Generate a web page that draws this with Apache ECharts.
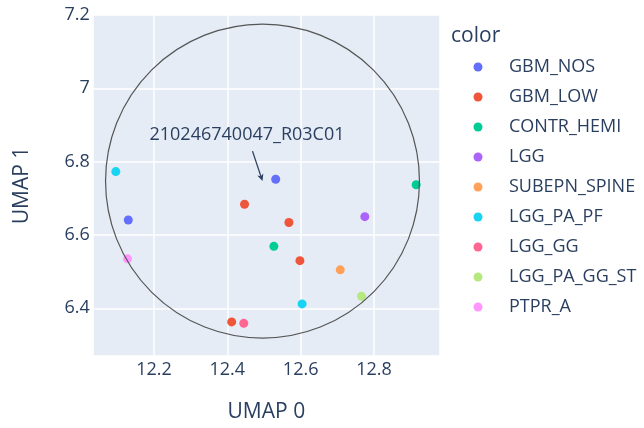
<!DOCTYPE html>
<html>
<head>
<meta charset="utf-8">
<script src="https://cdn.jsdelivr.net/npm/echarts@6/dist/echarts.min.js"></script>
<style>
html,body{margin:0;padding:0;background:#fff;}
#chart{width:644px;height:428px;}
</style>
</head>
<body>
<div id="chart"></div>
<script>
const categories = ['GBM_NOS','GBM_LOW','CONTR_HEMI','LGG','SUBEPN_SPINE','LGG_PA_PF','LGG_GG','LGG_PA_GG_ST','PTPR_A'];
const colors = ['#636efa','#EF553B','#00cc96','#ab63fa','#FFA15A','#19d3f3','#FF6692','#B6E880','#FF97FF'];
const gbmNos = [[12.130, 6.641], [12.532, 6.752]];
const gbmLow = [[12.447, 6.684], [12.568, 6.634], [12.598, 6.530], [12.412, 6.363]];
const contrHemi = [[12.527, 6.569], [12.915, 6.737]];
const lgg = [[12.775, 6.650]];
const subepnSpine = [[12.708, 6.505]];
const lggPaPf = [[12.096, 6.773], [12.604, 6.412]];
const lggGg = [[12.445, 6.359]];
const lggPaGgSt = [[12.766, 6.433]];
const ptprA = [[12.128, 6.535]];
const seriesValues = [gbmNos, gbmLow, contrHemi, lgg, subepnSpine, lggPaPf, lggGg, lggPaGgSt, ptprA];
// circle: center x, center y, radius (data units)
const circleShape = [[12.496, 6.747, 0.428]];
const annotationPoint = [[12.496, 6.747]];
const annotationText = '210246740047_R03C01';
const xRange = [12.033, 12.98];
const yRange = [6.27, 7.2];
const axisTitles = ['UMAP 0', 'UMAP 1'];
const legendTitle = 'color';

const textColor = '#2a3f5f';
const font = '"Open Sans", "Noto Sans", sans-serif';

const chart = echarts.init(document.getElementById('chart'), null, {renderer: 'canvas'});

const scatterSeries = categories.map((name, i) => ({
  name: name,
  type: 'scatter',
  data: seriesValues[i],
  symbol: 'circle',
  symbolSize: 9,
  itemStyle: {color: colors[i], opacity: 1},
  emphasis: {disabled: true},
  z: 3
}));

const circleSeries = {
  type: 'custom',
  name: '_circle',
  data: circleShape,
  z: 5,
  silent: true,
  renderItem: function (params, api) {
    const c = api.coord([api.value(0), api.value(1)]);
    const e = api.coord([api.value(0) + api.value(2), api.value(1)]);
    return {
      type: 'circle',
      shape: {cx: c[0], cy: c[1], r: e[0] - c[0]},
      style: {fill: 'none', stroke: '#555', lineWidth: 1.2}
    };
  }
};

const annotationSeries = {
  type: 'custom',
  name: '_annot',
  data: annotationPoint,
  z: 6,
  silent: true,
  renderItem: function (params, api) {
    const p = api.coord([api.value(0), api.value(1)]);
    const tail = [p[0] - 10, p[1] - 30];
    const dx = p[0] - tail[0], dy = p[1] - tail[1];
    const len = Math.sqrt(dx * dx + dy * dy);
    const ux = dx / len, uy = dy / len;
    const hl = 7, hw = 3.2;
    const base = [p[0] - ux * hl, p[1] - uy * hl];
    return {
      type: 'group',
      children: [
        {type: 'line', shape: {x1: tail[0], y1: tail[1], x2: base[0] + ux * 2, y2: base[1] + uy * 2},
         style: {stroke: textColor, lineWidth: 1.3}},
        {type: 'polygon', shape: {points: [
          [p[0], p[1]],
          [base[0] - uy * hw, base[1] + ux * hw],
          [base[0] + ux * 2, base[1] + uy * 2],
          [base[0] + uy * hw, base[1] - ux * hw]
        ]}, style: {fill: textColor}},
        {type: 'text',
         style: {x: p[0] - 15.5, y: p[1] - 46.5, text: annotationText, fill: textColor,
                 fontSize: 18, fontFamily: font, align: 'center', verticalAlign: 'middle'}}
      ]
    };
  }
};

chart.setOption({
  animation: false,
  backgroundColor: '#ffffff',
  textStyle: {fontFamily: font},
  title: {
    text: legendTitle,
    left: 451,
    top: 26,
    padding: 0,
    textStyle: {color: textColor, fontSize: 21, fontWeight: 'normal', fontFamily: font}
  },
  legend: {
    data: categories,
    orient: 'vertical',
    left: 473.5,
    top: 58,
    padding: 0,
    itemGap: 12,
    itemWidth: 9,
    itemHeight: 9,
    icon: 'circle',
    selectedMode: false,
    textStyle: {color: textColor, fontSize: 18, lineHeight: 18, fontFamily: font, padding: [0, 0, 0, 21.5]}
  },
  grid: {
    left: 92.7,
    right: 204,
    top: 15,
    bottom: 71.3,
    show: true,
    backgroundColor: '#E5ECF6',
    borderWidth: 0
  },
  xAxis: {
    type: 'value',
    min: xRange[0],
    max: xRange[1],
    name: axisTitles[0],
    nameLocation: 'middle',
    nameGap: 46,
    nameTextStyle: {color: textColor, fontSize: 21, fontFamily: font},
    axisLine: {show: false},
    axisTick: {show: false},
    axisLabel: {color: textColor, fontSize: 18, margin: 5, showMinLabel: false, showMaxLabel: false, fontFamily: font},
    splitLine: {show: true, lineStyle: {color: '#ffffff', width: 1.5}}
  },
  yAxis: {
    type: 'value',
    min: yRange[0],
    max: yRange[1],
    name: axisTitles[1],
    nameLocation: 'middle',
    nameGap: 60,
    nameTextStyle: {color: textColor, fontSize: 21, fontFamily: font},
    axisLine: {show: false},
    axisTick: {show: false},
    axisLabel: {color: textColor, fontSize: 18, margin: 3, showMinLabel: false, showMaxLabel: true, fontFamily: font},
    splitLine: {show: true, lineStyle: {color: '#ffffff', width: 1.5}}
  },
  series: scatterSeries.concat([circleSeries, annotationSeries])
});
</script>
</body>
</html>
